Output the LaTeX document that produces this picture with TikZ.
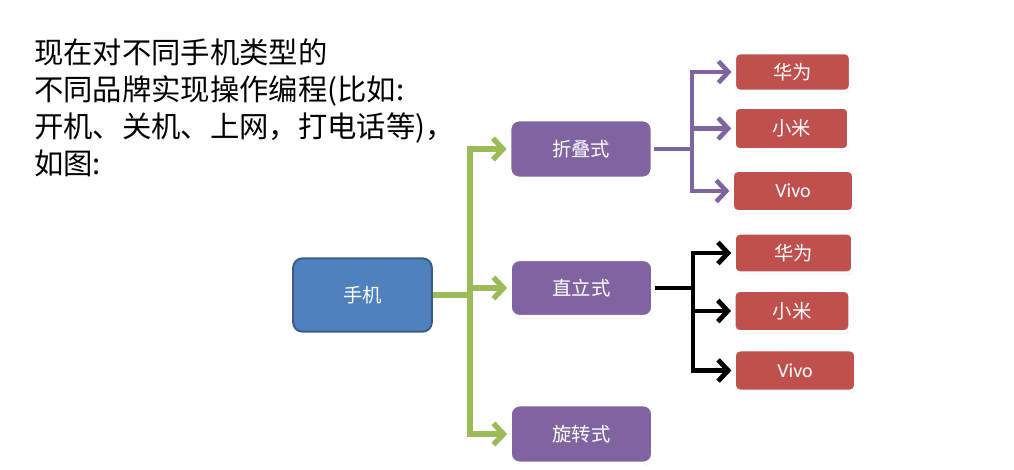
\documentclass[tikz,border=0pt]{standalone}
\usepackage{fontspec}
\newfontfamily\cjk{Noto Sans CJK SC}
\newfontfamily\latn{Carlito}
\usetikzlibrary{arrows.meta,shadows}
\definecolor{bluefill}{HTML}{4F81BD}
\definecolor{blueline}{HTML}{385D8A}
\definecolor{purp}{HTML}{8064A2}
\definecolor{redb}{HTML}{C0504D}
\definecolor{greenl}{HTML}{9BBB59}
\tikzset{
  boxbase/.style={rounded corners=7pt, text=white, font=\cjk\fontsize{14.5}{16}\selectfont, inner sep=0pt},
  phonebox/.style={boxbase, fill=bluefill, draw=blueline, line width=1.5pt},
  typebox/.style={boxbase, fill=purp, draw=white, line width=2.6pt, drop shadow={opacity=0.3, shadow xshift=0.8pt, shadow yshift=-1.2pt}},
  brandbox/.style={boxbase, rounded corners=4pt, fill=redb, draw=white, line width=2.4pt, drop shadow={opacity=0.3, shadow xshift=0.8pt, shadow yshift=-1.2pt}},
  latinfont/.style={font=\latn\fontsize{15}{17}\selectfont},
  gline/.style={draw=greenl, line width=4pt},
  pline/.style={draw=purp, line width=3.4pt},
  kline/.style={draw=black, line width=3.6pt},
  tip/.style={-{Straight Barb[length=7.5pt,width=16pt]}}
}
\begin{document}
\begin{tikzpicture}[x=0.75pt,y=-0.75pt]
\useasboundingbox[fill=white] (0,0) rectangle (1014,469);

\node[anchor=north west, align=left, inner sep=0pt, font=\cjk\fontsize{22}{27.8}\selectfont] (title) at (34,38)
  {现在对不同手机类型的\\不同品牌实现操作编程(比如:\\开机、关机、上网，打电话等)，\\如图:};

\node[phonebox, minimum width=104pt, minimum height=55pt] (phone) at (362.5,295) {手机};

\node[typebox, minimum width=107pt, minimum height=44pt] (fold) at (581,149) {折叠式};
\node[typebox, minimum width=107pt, minimum height=43pt] (up) at (581.5,288) {直立式};
\node[typebox, minimum width=107pt, minimum height=44pt] (rot) at (581.5,434) {旋转式};

\node[brandbox, minimum width=87pt, minimum height=29pt] (r1) at (792.5,72) {华为};
\node[brandbox, minimum width=86pt, minimum height=32pt] (r2) at (791.5,128.5) {小米};
\node[brandbox, minimum width=91pt, minimum height=31pt, latinfont] (r3) at (793,191) {Vivo};
\node[brandbox, minimum width=89pt, minimum height=30pt] (r4) at (793.5,253) {华为};
\node[brandbox, minimum width=87pt, minimum height=31pt] (r5) at (792,311) {小米};
\node[brandbox, minimum width=91pt, minimum height=31pt, latinfont] (r6) at (795,370.5) {Vivo};

\coordinate (gj) at (470,295);
\coordinate (pj) at (692,149);
\coordinate (bj) at (693,288);

\draw[gline] (phone.east) -- (gj);
\draw[gline, tip] (gj) |- ([xshift=-1pt]fold.west);
\draw[gline, tip] (gj) |- ([xshift=-1pt]up.west);
\draw[gline, tip] (gj) |- ([xshift=-1pt]rot.west);

\draw[pline] (fold.east) -- (pj);
\draw[pline, tip] (pj) |- ([xshift=-1pt]r1.west);
\draw[pline, tip] (pj) |- ([xshift=-1pt]r2.west);
\draw[pline, tip] (pj) |- ([xshift=-1pt]r3.west);

\draw[kline] (up.east) -- (bj);
\draw[kline, tip] (bj) |- ([xshift=-1pt]r4.west);
\draw[kline, tip] (bj) |- ([xshift=-1pt]r5.west);
\draw[kline, tip] (bj) |- ([xshift=-1pt]r6.west);
\end{tikzpicture}
\end{document}
